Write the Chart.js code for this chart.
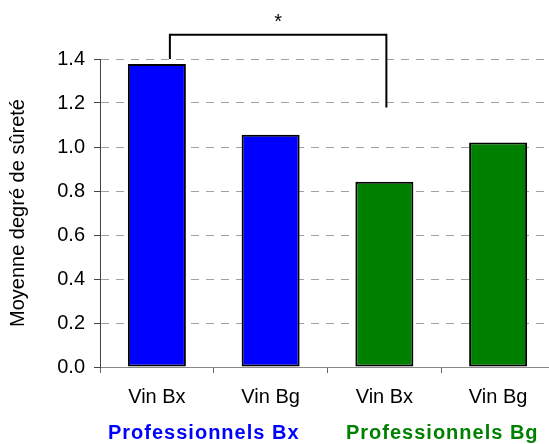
<!DOCTYPE html>
<html>
<head>
<meta charset="utf-8">
<script src="https://cdn.jsdelivr.net/npm/chart.js@4"></script>
<style>
  body { margin: 0; overflow: hidden; background: #fff; }
  #wrap { width: 555px; height: 444px; }
</style>
</head>
<body>
<div id="wrap"><canvas id="chart"></canvas></div>
<script>
const labels = ['Vin Bx', 'Vin Bg', 'Vin Bx', 'Vin Bg'];
const values = [1.377, 1.056, 0.842, 1.021];
const barColors = ['#0000ff', '#0000ff', '#008000', '#008000'];
const groups = ['Professionnels Bx', 'Professionnels Bg'];
const groupColors = ['#0000ff', '#008000'];
// significance bracket: from bar 0 to bar 2
const bracket = { from: 0, to: 2, leftY: 1.4, topY: 1.51, rightY: 1.18, text: '*' };

const extras = {
    id: 'extras',
    afterDraw(chart) {
        const ctx = chart.ctx;
        const x = chart.scales.x, y = chart.scales.y;
        // bracket
        const x1 = x.getPixelForValue(bracket.from) + 13;
        const x2 = x.getPixelForValue(bracket.to) + 2;
        ctx.save();
        ctx.strokeStyle = '#000';
        ctx.lineWidth = 2;
        ctx.beginPath();
        ctx.moveTo(x1, y.getPixelForValue(bracket.leftY));
        ctx.lineTo(x1, y.getPixelForValue(bracket.topY));
        ctx.lineTo(x2, y.getPixelForValue(bracket.topY));
        ctx.lineTo(x2, y.getPixelForValue(bracket.rightY));
        ctx.stroke();
        ctx.fillStyle = '#000';
        ctx.font = '20px "Liberation Sans", Arial, sans-serif';
        ctx.textAlign = 'center';
        ctx.textBaseline = 'middle';
        ctx.fillText(bracket.text, (x1 + x2) / 2, 22);
        // group labels
        ctx.font = 'bold 20px "Liberation Sans", Arial, sans-serif';
        ctx.letterSpacing = '1px';
        const shift = [-10, 1];
        groups.forEach((g, i) => {
            const cx = (x.getPixelForValue(i * 2) + x.getPixelForValue(i * 2 + 1)) / 2 + shift[i];
            ctx.fillStyle = groupColors[i];
            ctx.fillText(g, cx, 433);
        });
        ctx.restore();
    }
};

new Chart(document.getElementById('chart'), {
    type: 'bar',
    data: {
        labels: labels,
        datasets: [{
            data: values,
            backgroundColor: barColors,
            borderColor: '#000',
            borderWidth: 2,
            borderSkipped: false,
            barPercentage: 0.51,
            categoryPercentage: 1.0
        }]
    },
    options: {
        responsive: true,
        maintainAspectRatio: false,
        animation: false,
        layout: { padding: { top: 59, right: 0, left: 0, bottom: 0 } },
        plugins: { legend: { display: false }, tooltip: { enabled: false } },
        scales: {
            x: {
                afterFit(s) { s.height = 77; },
                grid: { drawOnChartArea: false, tickLength: 6, tickColor: '#666', offset: true },
                border: { color: '#888', width: 1 },
                ticks: { color: '#000', padding: 12, font: { family: '"Liberation Sans", Arial, sans-serif', size: 20 } }
            },
            y: {
                min: 0,
                max: 1.4,
                afterFit(s) { s.width = 100; },
                grid: { color: '#a0a0a0', tickLength: 6, tickColor: '#444', tickBorderDash: [] },
                border: { color: '#444', width: 1, dash: [8, 7] },
                ticks: {
                    stepSize: 0.2,
                    padding: 9,
                    color: '#000',
                    font: { family: '"Liberation Sans", Arial, sans-serif', size: 20 },
                    callback: v => v.toFixed(1)
                },
                title: {
                    display: true,
                    text: 'Moyenne degré de sûreté',
                    color: '#000',
                    padding: { top: 6, bottom: 0 },
                    font: { family: '"Liberation Sans", Arial, sans-serif', size: 20 }
                }
            }
        }
    },
    plugins: [extras]
});
</script>
</body>
</html>
